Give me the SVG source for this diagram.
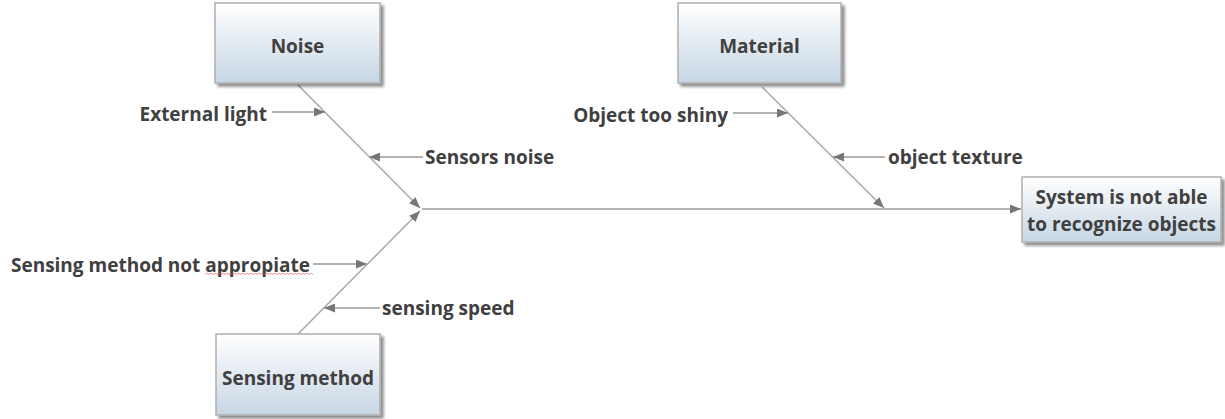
<svg xmlns="http://www.w3.org/2000/svg" width="1225" height="419" viewBox="0 0 1225 419">
  <style>
    .box { fill: url(#boxFill); stroke: #aeaeae; stroke-width: 1.5; filter: url(#shadow); }
    .title { font-family: "Open Sans", "Noto Sans", sans-serif; font-weight: 700; font-size: 19px; fill: #404040; text-anchor: middle; }
    .label { font-family: "Open Sans", "Noto Sans", sans-serif; font-weight: 700; font-size: 19px; fill: #404040; }
    .spine { stroke: #a8a8a8; stroke-width: 1.5; fill: none; marker-end: url(#arrow); }
    .main { stroke: #b4b4b4; stroke-width: 2.2; fill: none; marker-end: url(#arrow); }
    .cause { stroke: #9a9a9a; stroke-width: 1.3; fill: none; marker-end: url(#arrow); }
  </style>
  <defs>
    <linearGradient id="boxFill" x1="0" y1="0" x2="0" y2="1">
      <stop offset="0" stop-color="#ffffff"/>
      <stop offset="1" stop-color="#c6d6e4"/>
    </linearGradient>
    <filter id="shadow" x="-10%" y="-10%" width="125%" height="130%">
      <feGaussianBlur in="SourceAlpha" stdDeviation="1.5"/>
      <feOffset dx="2.5" dy="3" result="off"/>
      <feComponentTransfer><feFuncA type="linear" slope="0.45"/></feComponentTransfer>
      <feMerge><feMergeNode/><feMergeNode in="SourceGraphic"/></feMerge>
    </filter>
    <marker id="arrow" viewBox="0 0 11 9" refX="11" refY="4.5" markerWidth="11" markerHeight="9" markerUnits="userSpaceOnUse" orient="auto">
      <path d="M0,0 L11,4.5 L0,9 Z" fill="#767676"/>
    </marker>
  </defs>

  <rect width="1225" height="419" fill="#ffffff"/>

  <!-- connectors -->
  <g id="connectors">
    <line class="spine" x1="298" y1="85" x2="420" y2="208"/>
    <line class="spine" x1="298" y1="334" x2="420" y2="211"/>
    <line class="spine" x1="762" y1="87" x2="884" y2="208"/>
    <line class="main" x1="422" y1="209" x2="1021" y2="209"/>
    <line class="cause" x1="272" y1="112" x2="325" y2="112"/>
    <line class="cause" x1="423" y1="157" x2="369" y2="157"/>
    <line class="cause" x1="733" y1="113" x2="788" y2="113"/>
    <line class="cause" x1="885" y1="157" x2="833" y2="157"/>
    <line class="cause" x1="313" y1="264" x2="367" y2="264"/>
    <line class="cause" x1="380" y1="308" x2="324" y2="308"/>
  </g>

  <!-- category boxes -->
  <g id="noise">
    <rect class="box" x="215" y="3" width="165" height="80"/>
    <text class="title" x="297.5" y="53">Noise</text>
  </g>
  <g id="material">
    <rect class="box" x="678" y="3" width="163" height="80"/>
    <text class="title" x="759.5" y="53">Material</text>
  </g>
  <g id="sensing-method">
    <rect class="box" x="216" y="334" width="164" height="81"/>
    <text class="title" x="298" y="385">Sensing method</text>
  </g>

  <!-- effect -->
  <g id="effect">
    <rect class="box" x="1022" y="177" width="199" height="65"/>
    <text class="title" x="1121.5" y="204">System is not able</text>
    <text class="title" x="1121.5" y="231">to recognize objects</text>
  </g>

  <!-- cause labels -->
  <g id="cause-labels">
    <text class="label" x="267" y="121" text-anchor="end">External light</text>
    <text class="label" x="425" y="164">Sensors noise</text>
    <text class="label" x="728" y="122" text-anchor="end">Object too shiny</text>
    <text class="label" x="888" y="164">object texture</text>
    <text class="label" x="310" y="272" text-anchor="end">Sensing method not appropiate</text>
    <text class="label" x="382" y="315">sensing speed</text>
    <!-- spell-check underline -->
    <path d="M205,274.5 l2,-1.5 l2,1.5 l2,-1.5 l2,1.5 l2,-1.5 l2,1.5 l2,-1.5 l2,1.5 l2,-1.5 l2,1.5 l2,-1.5 l2,1.5 l2,-1.5 l2,1.5 l2,-1.5 l2,1.5 l2,-1.5 l2,1.5 l2,-1.5 l2,1.5 l2,-1.5 l2,1.5 l2,-1.5 l2,1.5 l2,-1.5 l2,1.5 l2,-1.5 l2,1.5 l2,-1.5 l2,1.5 l2,-1.5 l2,1.5 l2,-1.5 l2,1.5 l2,-1.5 l2,1.5 l2,-1.5 l2,1.5 l2,-1.5 l2,1.5 l2,-1.5 l2,1.5 l2,-1.5 l2,1.5 l2,-1.5 l2,1.5 l2,-1.5 l2,1.5 l2,-1.5 l2,1.5 l2,-1.5 l2,1.5 l2,-1.5 l2,1.5" fill="none" stroke="#e05050" stroke-width="0.8" opacity="0.8"/>
  </g>
</svg>
